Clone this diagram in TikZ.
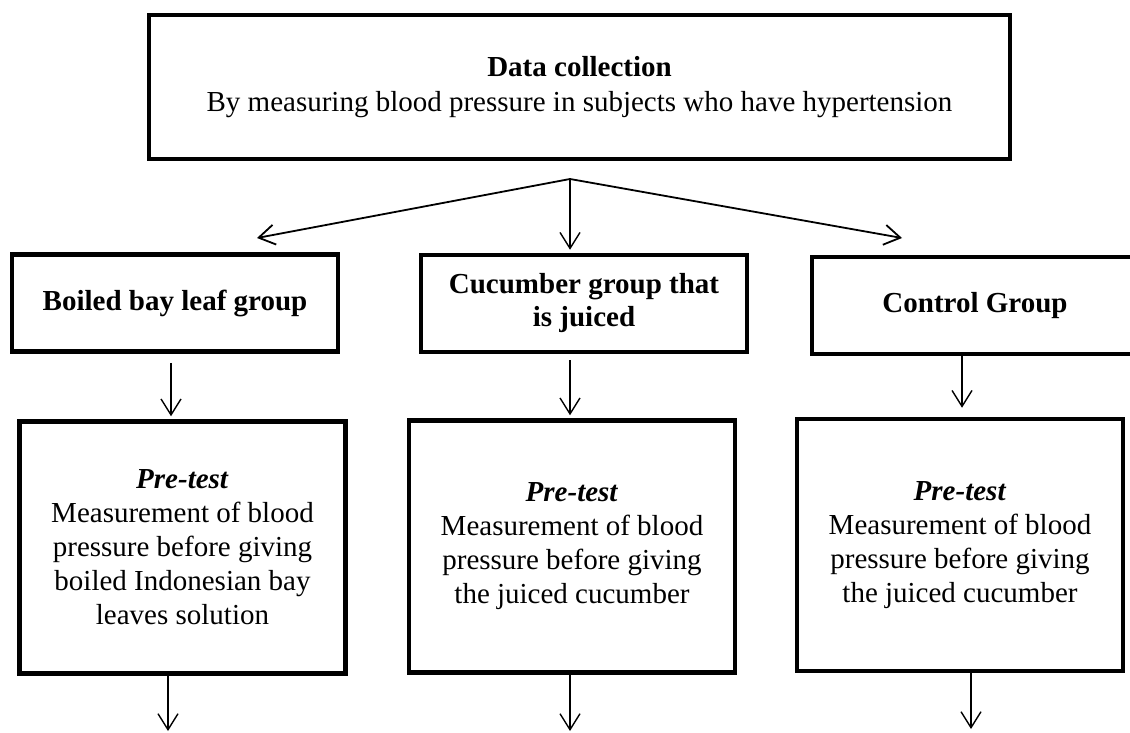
\documentclass[tikz,border=0pt]{standalone}
\usepackage{fontspec}
\setmainfont{Liberation Serif}
\usepackage{tikz}
\usetikzlibrary{arrows.meta}

\begin{document}
\begin{tikzpicture}[
	x=1pt, y=-1pt,
	box/.style={
		draw,
		line width=4.5pt,
		align=center,
		inner sep=0pt,
		font=\fontsize{29}{34}\selectfont
	},
	groupbox/.style={
		box,
		minimum width=326pt,
		minimum height=97pt,
		font=\fontsize{29}{33}\selectfont\bfseries
	},
	prebox/.style={
		box,
		minimum width=326pt,
		minimum height=252pt
	},
	pfeil/.style={
		-{Straight Barb[length=16pt,width=20pt]},
		line width=1.4pt
	}
]
	\useasboundingbox (0,0) rectangle (1130,733);

	% Datenerhebung
	\node[
		box,
		minimum width=861pt,
		minimum height=144pt,
		font=\fontsize{29}{35}\selectfont
	] (collection) at (579.5,87) {\textbf{Data collection}\\By measuring blood pressure in subjects who have hypertension};

	% Gruppen
	\node[groupbox] (bayleaf)  at (175,303)   {Boiled bay leaf group};
	\node[groupbox] (cucumber) at (584,303.5) {Cucumber group that\\is juiced};
	\node[groupbox] (control)  at (975,305.5) {Control Group};

	% Pre-Test
	\node[prebox] (prebay) at (182.5,547.5)
		{\textbf{\textit{Pre-test}}\\Measurement of blood\\pressure before giving\\boiled Indonesian bay\\leaves solution};
	\node[prebox] (precucumber) at (572,546.5)
		{\textbf{\textit{Pre-test}}\\Measurement of blood\\pressure before giving\\the juiced cucumber};
	\node[prebox] (precontrol) at (960,545)
		{\textbf{\textit{Pre-test}}\\Measurement of blood\\pressure before giving\\the juiced cucumber};

	% Punkte
	\coordinate (split)  at (570,179);
	\coordinate (tipbay) at (257,238);
	\coordinate (tipcon) at (902,238);
	\coordinate (outbay) at (168,731);
	\coordinate (outcuc) at (570,731);
	\coordinate (outcon) at (971,729);

	% Pfeile
	\draw[pfeil, line width=1.8pt] (split) to (tipbay);
	\draw[pfeil, line width=1.8pt] (split) to (tipcon);
	\draw[pfeil, shorten >=3pt] (split) to (split |- cucumber.north);
	\draw[pfeil, shorten <=9pt, shorten >=3pt]
		([xshift=-4pt]bayleaf.south) to ([xshift=-4pt]bayleaf.south |- prebay.north);
	\draw[pfeil, shorten <=6pt, shorten >=3pt]
		([xshift=-14pt]cucumber.south) to ([xshift=-14pt]cucumber.south |- precucumber.north);
	\draw[pfeil, shorten >=9pt]
		([xshift=-13pt]control.south) to ([xshift=-13pt]control.south |- precontrol.north);
	\draw[pfeil] (prebay.south -| outbay)      to (outbay);
	\draw[pfeil] (precucumber.south -| outcuc) to (outcuc);
	\draw[pfeil] (precontrol.south -| outcon)  to (outcon);
\end{tikzpicture}
\end{document}
